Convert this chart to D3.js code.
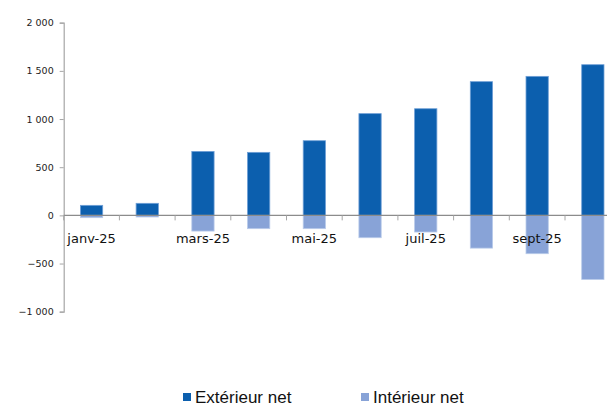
<!DOCTYPE html>
<html>
<head>
<meta charset="utf-8">
<script src="https://cdn.jsdelivr.net/npm/d3@7/dist/d3.min.js"></script>
<style>
  html, body { margin: 0; padding: 0; background: #fff; }
  svg { display: block; }
</style>
</head>
<body>
<svg id="chart" width="607" height="404"></svg>
<script>
// Monthly categories and the two net series
const months = ["janv-25", "févr-25", "mars-25", "avr-25", "mai-25", "juin-25", "juil-25", "août-25", "sept-25", "oct-25"];
const exterieurNet = [104, 125, 664, 654, 775, 1056, 1107, 1388, 1443, 1564];
const interieurNet = [-24, -17, -163, -138, -138, -232, -173, -340, -398, -665];
const yTicks = [-1000, -500, 0, 500, 1000, 1500, 2000];
const seriesNames = ["Extérieur net", "Intérieur net"];
const seriesColors = ["#0c5fae", "#88a3d7"];

const svg = d3.select("#chart");

const x = d3.scaleBand()
  .domain(months)
  .range([63.7, 620.7])
  .paddingInner(0.6)
  .paddingOuter(0.3);

const y = d3.scaleLinear()
  .domain([-1000, 2000])
  .range([311.7, 22.7]);

// Thousands separated by a space
const fmt = v => d3.format(",")(v).replace(/,/g, " ");

// Bars: exterior above zero, interior below
const series = [exterieurNet, interieurNet];
series.forEach((vals, si) => {
  svg.append("g")
    .selectAll("rect")
    .data(vals.map((v, i) => ({ m: months[i], v })))
    .join("rect")
    .attr("x", d => x(d.m))
    .attr("width", x.bandwidth())
    .attr("y", d => y(Math.max(0, d.v)))
    .attr("height", d => Math.abs(y(d.v) - y(0)))
    .attr("fill", seriesColors[si])
    .attr("stroke", si === 0 ? "#6f9fd6" : "#b9cbea")
    .attr("stroke-width", 0.8);
});

// Y axis
const yAxis = svg.append("g")
  .attr("transform", "translate(63.7,0)")
  .call(d3.axisLeft(y).tickValues(yTicks).tickSize(4).tickPadding(6).tickFormat(fmt));
yAxis.select(".domain").attr("stroke", "#a6a6a6").attr("stroke-width", 1.2);
yAxis.selectAll(".tick line").attr("stroke", "#a6a6a6");
yAxis.selectAll(".tick text")
  .attr("font-family", "DejaVu Sans, sans-serif")
  .attr("font-size", 9.5)
  .attr("fill", "#222");

// X axis along zero, with ticks on category boundaries
const x0 = y(0);
svg.append("line")
  .attr("x1", 63.7).attr("x2", 620.7)
  .attr("y1", x0).attr("y2", x0)
  .attr("stroke", "#8c8c8c").attr("stroke-width", 1.2);

const step = x.step();
const boundaries = d3.range(months.length + 1).map(i => 63.7 + i * step);
svg.append("g")
  .selectAll("line")
  .data(boundaries)
  .join("line")
  .attr("x1", d => d).attr("x2", d => d)
  .attr("y1", x0).attr("y2", x0 + 5)
  .attr("stroke", "#a6a6a6");

// Category labels on every other month
svg.append("g")
  .selectAll("text")
  .data(months.filter((m, i) => i % 2 === 0))
  .join("text")
  .attr("x", d => x(d) + x.bandwidth() / 2)
  .attr("y", 243)
  .attr("text-anchor", "middle")
  .attr("font-family", "DejaVu Sans, sans-serif")
  .attr("font-size", 13)
  .attr("fill", "#111")
  .text(d => d);

// Legend
const legendX = [183, 361];
const legend = svg.append("g");
seriesNames.forEach((name, i) => {
  legend.append("rect")
    .attr("x", legendX[i]).attr("y", 393)
    .attr("width", 8).attr("height", 8)
    .attr("fill", seriesColors[i]);
  legend.append("text")
    .attr("x", legendX[i] + 12).attr("y", 402.5)
    .attr("font-family", "Liberation Sans, Arial, sans-serif")
    .attr("font-size", 17)
    .attr("fill", "#111")
    .text(name);
});
</script>
</body>
</html>
